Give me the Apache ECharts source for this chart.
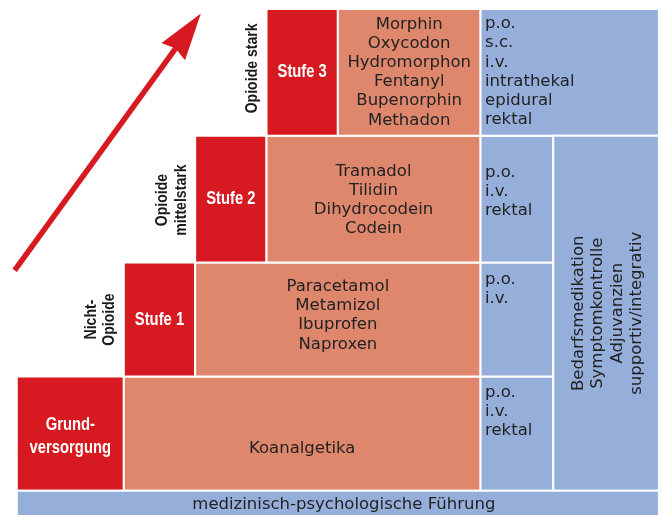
<!DOCTYPE html>
<html>
<head>
<meta charset="utf-8">
<script src="https://cdn.jsdelivr.net/npm/echarts@6/dist/echarts.min.js"></script>
<style>
  html, body { margin: 0; padding: 0; background: #fff; }
  #main { width: 662px; height: 515px; }
</style>
</head>
<body>
<div id="main"></div>
<script>
// Stufen, von unten nach oben
const steps = ['Grund-\nversorgung', 'Stufe 1', 'Stufe 2', 'Stufe 3'];
const stepGroups = ['', 'Nicht-\nOpioide', 'Opioide\nmittelstark', 'Opioide stark'];
const drugs = [
  ['Koanalgetika'],
  ['Paracetamol', 'Metamizol', 'Ibuprofen', 'Naproxen'],
  ['Tramadol', 'Tilidin', 'Dihydrocodein', 'Codein'],
  ['Morphin', 'Oxycodon', 'Hydromorphon', 'Fentanyl', 'Bupenorphin', 'Methadon']
];
const routes = [
  ['p.o.', 'i.v.', 'rektal'],
  ['p.o.', 'i.v.'],
  ['p.o.', 'i.v.', 'rektal'],
  ['p.o.', 's.c.', 'i.v.', 'intrathekal', 'epidural', 'rektal']
];
const supportive = ['Bedarfsmedikation', 'Symptomkontrolle', 'Adjuvanzien', 'supportiv/integrativ'];
const baseLabel = 'medizinisch-psychologische Führung';

// Leiter in Achseneinheiten (x: Spalten, y: Ebenen)
const stepLeft = [0, 1.5, 2.5, 3.5];
const stepWidth = [1.5, 1, 1, 1];
const levelTop = [1, 2, 3.11, 4.22];
const drugRight = 6.5, routeRight = 7.52, fullRight = 9;
const arrowFrom = [-0.03, 1.93];
const arrowTo = [2.58, 4.18];

const RED = '#d71a21', SALMON = '#de876c', BLUE = '#96afda', INK = '#222222';
const MAIN_FONT = "'DejaVu Sans', sans-serif";
const COND_FONT = "'Liberation Sans', Arial, sans-serif"; // wird per scaleX schmal gemacht

// Zellen aufbauen: [x0, x1, y0, y1, art, ebene]
const cells = [];
steps.forEach((s, i) => {
  const y0 = i === 0 ? 0 : levelTop[i - 1];
  const y1 = levelTop[i];
  const xr = stepLeft[i] + stepWidth[i];
  cells.push([stepLeft[i], xr, y0, y1, 'step', i]);
  cells.push([xr, drugRight, y0, y1, 'drug', i]);
  cells.push([drugRight, i === 3 ? fullRight : routeRight, y0, y1, 'route', i]);
});
cells.push([routeRight, fullRight, 0, levelTop[2], 'support', 0]);
cells.push([0, fullRight, -0.3, 0, 'base', 0]);

const fills = { step: RED, drug: SALMON, route: BLUE, support: BLUE, base: BLUE };
const drugShift = [15, -4, 1, 0];      // vertikale Feinlage der Wirkstoffe
const routePad = [16, 17.5, 36.5, 15];  // erste Zeile ab Zellenoberkante
const groupShift = [0, 0, 1, -4];

function txt(x, y, text, opt) {
  return {
    type: 'text', x: x, y: y, rotation: opt.rotation || 0,
    scaleX: opt.scaleX || 1,
    style: {
      text: text, fill: opt.fill || INK,
      fontSize: opt.size || 16.5, fontFamily: opt.family || MAIN_FONT,
      fontWeight: opt.weight || 'normal',
      align: opt.align || 'center', verticalAlign: opt.valign || 'middle',
      lineHeight: opt.lh || 19.2
    }
  };
}

function renderCell(params, api) {
  const c = cells[params.dataIndex];
  const tl = api.coord([c[0], c[3]]);
  const br = api.coord([c[1], c[2]]);
  const x = tl[0], y = tl[1], w = br[0] - tl[0], h = br[1] - tl[1];
  const kind = c[4], lv = c[5];
  const cx = x + w / 2, cy = y + h / 2;
  const children = [{
    type: 'rect', shape: { x: x, y: y, width: w, height: h },
    style: { fill: fills[kind], stroke: '#fff', lineWidth: 2 }
  }];
  if (kind === 'step') {
    children.push(txt(cx, cy + (lv === 0 ? 3 : 0), steps[lv], {
      fill: '#fff', size: 18.5, family: COND_FONT, weight: 'bold', lh: 23, scaleX: 0.8
    }));
    if (stepGroups[lv]) {
      const n = stepGroups[lv].split('\n').length;
      children.push(txt(x - (5 + n * 9), cy + groupShift[lv], stepGroups[lv], {
        size: 16, family: COND_FONT, weight: 'bold', lh: 18.5, scaleX: 0.88,
        rotation: Math.PI / 2, fill: '#1a1a1a'
      }));
    }
  } else if (kind === 'drug') {
    children.push(txt(cx, cy + drugShift[lv], drugs[lv].join('\n'), {}));
  } else if (kind === 'route') {
    children.push(txt(x + 4.5, y + routePad[lv] - 9.6, routes[lv].join('\n'), { align: 'left', valign: 'top' }));
  } else if (kind === 'support') {
    children.push(txt(cx + 1.5, cy, supportive.join('\n'), { rotation: Math.PI / 2, lh: 19.4 }));
  } else if (kind === 'base') {
    children.push(txt(cx + 6, y + 14, baseLabel, {}));
  }
  return { type: 'group', children: children };
}

function renderArrow(params, api) {
  const p0 = api.coord([api.value(0), api.value(1)]);
  const p1 = api.coord([api.value(2), api.value(3)]);
  const dx = p1[0] - p0[0], dy = p1[1] - p0[1];
  const len = Math.sqrt(dx * dx + dy * dy);
  const ux = dx / len, uy = dy / len, nx = -uy, ny = ux;
  const L = 47, hw = 14.5, notch = 4;
  const bx = p1[0] - L * ux, by = p1[1] - L * uy;
  const mx = p1[0] - (L - notch) * ux, my = p1[1] - (L - notch) * uy;
  return {
    type: 'group',
    children: [
      { type: 'line', shape: { x1: p0[0], y1: p0[1], x2: mx, y2: my }, style: { stroke: RED, lineWidth: 5.5 } },
      { type: 'polygon', shape: { points: [p1, [bx + hw * nx, by + hw * ny], [mx, my], [bx - hw * nx, by - hw * ny]] }, style: { fill: RED } }
    ]
  };
}

const chart = echarts.init(document.getElementById('main'));
chart.setOption({
  backgroundColor: '#ffffff',
  animation: false,
  grid: { left: 16.8, right: 3.1, top: 9, bottom: 1.4 },
  xAxis: { type: 'value', min: 0, max: fullRight, show: false },
  yAxis: { type: 'value', min: -0.2, max: levelTop[3], show: false },
  series: [
    {
      type: 'custom', renderItem: renderCell, clip: false,
      encode: { x: [0, 1], y: [2, 3] },
      data: cells.map(c => [c[0], c[1], c[2], c[3]])
    },
    {
      type: 'custom', renderItem: renderArrow, clip: false,
      encode: { x: [0, 2], y: [1, 3] },
      data: [[arrowFrom[0], arrowFrom[1], arrowTo[0], arrowTo[1]]]
    }
  ]
});
</script>
</body>
</html>
